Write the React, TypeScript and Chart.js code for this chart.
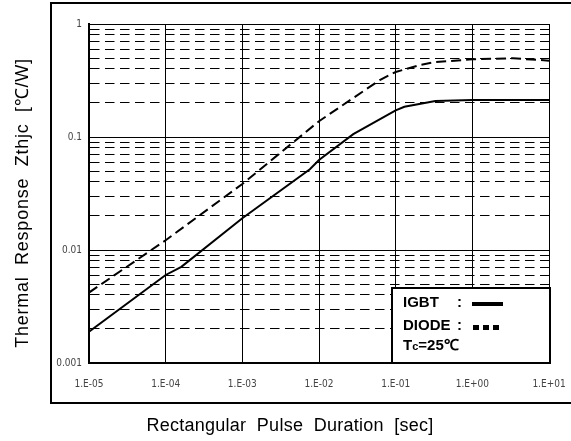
import React, { useEffect, useRef } from 'react';
import { Chart, registerables } from 'chart.js';

Chart.register(...registerables);

// ---- data ----
const igbtTime = [1e-5, 1e-4, 1.6e-4, 1e-3, 7.6e-3, 1e-2, 2.8e-2, 1e-1, 1.3e-1, 3.3e-1, 1, 10];
const igbtZth = [0.00189, 0.00601, 0.0071, 0.0191, 0.0518, 0.0626, 0.106, 0.172, 0.185, 0.208, 0.213, 0.213];

const diodeTime = [1e-5, 1e-4, 1e-3, 1e-2, 6.2e-2, 1e-1, 2.1e-1, 3.1e-1, 1, 3.4, 10];
const diodeZth = [0.0042, 0.0122, 0.0384, 0.138, 0.319, 0.376, 0.434, 0.458, 0.487, 0.497, 0.474];

const xTickValues = [1e-5, 1e-4, 1e-3, 1e-2, 1e-1, 1, 10];
const xTickLabels = ['1.E-05', '1.E-04', '1.E-03', '1.E-02', '1.E-01', '1.E+00', '1.E+01'];
const yTickValues = [0.001, 0.01, 0.1, 1];
const yTickLabels = ['0.001', '0.01', '0.1', '1'];
const yMinorMultipliers = [2, 3, 4, 5, 6, 7, 8, 9];

const xTitle = 'Rectangular  Pulse  Duration  [sec]';
const yTitle = 'Thermal  Response  Zthjc  [℃/W]';
const legendNames = ['IGBT', 'DIODE'];
const tcMain = 'T';
const tcSub = 'c';
const tcRest = '=25℃';

const NARROW = "'Liberation Sans Narrow', 'Arial Narrow', 'DejaVu Sans Condensed', sans-serif";
const SANS = "'Liberation Sans', Arial, Helvetica, sans-serif";

const near = (a: number, b: number) => Math.abs(Math.log10(a) - Math.log10(b)) < 1e-6;
const isDecade = (v: number) => {
  const l = Math.log10(v);
  return Math.abs(l - Math.round(l)) < 1e-6;
};

const yGridValues: number[] = [];
yTickValues.forEach((d, i) => {
  yGridValues.push(d);
  if (i < yTickValues.length - 1) yMinorMultipliers.forEach((m) => yGridValues.push(m * d));
});

const decorPlugin = {
  id: 'decor',
  afterDraw(chart: any) {
    const { ctx, chartArea } = chart;
    const { left, right, bottom } = chartArea;
    ctx.save();

    // outer frame
    ctx.strokeStyle = '#000';
    ctx.lineWidth = 2;
    ctx.strokeRect(left - 38, 3, chart.width - (left - 38) + 10, bottom + 40 - 3);

    // legend box
    const lx = right - 157;
    const ly = bottom - 75;
    ctx.fillStyle = '#fff';
    ctx.fillRect(lx, ly, right + 1 - lx, bottom - ly);
    ctx.lineWidth = 2;
    ctx.strokeRect(lx, ly, right + 1 - lx, bottom - ly);

    ctx.fillStyle = '#000';
    ctx.textAlign = 'left';
    ctx.textBaseline = 'alphabetic';
    ctx.font = `bold 15px ${SANS}`;
    const tx = lx + 11;
    ctx.fillText(legendNames[0], tx, ly + 18.5);
    ctx.fillText(':', lx + 65, ly + 18.5);
    ctx.fillText(legendNames[1], tx, ly + 42);
    ctx.fillText(':', lx + 65, ly + 42);

    // IGBT sample (solid)
    ctx.fillRect(lx + 80, ly + 14, 31, 4);
    // DIODE sample (dots)
    [0, 10, 20].forEach((o) => ctx.fillRect(lx + 81 + o, ly + 37, 6, 5));

    // Tc = 25 C
    ctx.font = `bold 15px ${SANS}`;
    ctx.fillText(tcMain, tx, ly + 62);
    const w1 = ctx.measureText(tcMain).width;
    ctx.font = `bold 11px ${SANS}`;
    ctx.fillText(tcSub, tx + w1, ly + 62);
    const w2 = ctx.measureText(tcSub).width;
    ctx.font = `bold 15px ${SANS}`;
    ctx.fillText(tcRest, tx + w1 + w2, ly + 62);

    // axis titles
    ctx.font = `18px ${SANS}`;
    ctx.textAlign = 'center';
    ctx.textBaseline = 'middle';
    ctx.fillStyle = '#000';
    (ctx as any).letterSpacing = '0.25px';
    ctx.fillText(xTitle, 290, bottom + 63);

    (ctx as any).letterSpacing = '0.75px';
    ctx.translate(23, 203);
    ctx.rotate(-Math.PI / 2);
    ctx.fillText(yTitle, 0, 0);
    (ctx as any).letterSpacing = '0px';
    ctx.restore();
  },
};

export default function App() {
  const ref = useRef<HTMLCanvasElement | null>(null);

  useEffect(() => {
    document.body.style.margin = '0';
    const canvas = ref.current;
    if (!canvas) return;

    const minorDash = (c: any) => (c.tick && !isDecade(c.tick.value) ? [9.5, 5.5] : []);

    const chart = new Chart(canvas, {
      type: 'line',
      data: {
        datasets: [
          {
            label: legendNames[0],
            data: igbtTime.map((t, i) => ({ x: t, y: igbtZth[i] })),
            borderColor: '#000',
            borderWidth: 2,
            pointRadius: 0,
            tension: 0,
            fill: false,
          },
          {
            label: legendNames[1],
            data: diodeTime.map((t, i) => ({ x: t, y: diodeZth[i] })),
            borderColor: '#000',
            borderWidth: 2,
            borderDash: [10, 5],
            pointRadius: 0,
            tension: 0,
            fill: false,
          },
        ],
      },
      options: {
        animation: false,
        responsive: false,
        devicePixelRatio: 1,
        layout: { padding: { top: 24, right: 22, left: 0, bottom: 0 } },
        plugins: { legend: { display: false }, tooltip: { enabled: false } },
        scales: {
          x: {
            type: 'logarithmic',
            min: 1e-5,
            max: 10,
            afterBuildTicks: (s: any) => {
              s.ticks = xTickValues.map((v) => ({ value: v }));
            },
            afterFit: (s: any) => {
              s.height = 78;
              s.paddingLeft = 0;
              s.paddingRight = 0;
            },
            ticks: {
              autoSkip: false,
              maxRotation: 0,
              padding: 15,
              color: '#444',
              font: { family: NARROW, size: 10 },
              callback: (v: any) => {
                const i = xTickValues.findIndex((t) => near(t, Number(v)));
                return i >= 0 ? xTickLabels[i] : '';
              },
            },
            grid: { color: '#000', lineWidth: 1, drawTicks: false },
            border: { display: true, color: '#000', width: 2 },
          },
          y: {
            type: 'logarithmic',
            min: 0.001,
            max: 1,
            afterBuildTicks: (s: any) => {
              s.ticks = yGridValues.map((v) => ({ value: v }));
            },
            afterFit: (s: any) => {
              s.width = 89;
              s.paddingTop = 0;
              s.paddingBottom = 0;
            },
            ticks: {
              autoSkip: false,
              padding: 7,
              color: '#444',
              font: { family: NARROW, size: 10 },
              callback: (v: any) => {
                const i = yTickValues.findIndex((t) => near(t, Number(v)));
                return i >= 0 ? yTickLabels[i] : '';
              },
            },
            grid: { color: '#000', lineWidth: 1, drawTicks: false },
            border: { display: true, color: '#000', width: 2, dash: minorDash },
          },
        },
      },
      plugins: [decorPlugin],
    } as any);

    return () => chart.destroy();
  }, []);

  return <canvas ref={ref} width={571} height={441} style={{ display: 'block' }} />;
}
